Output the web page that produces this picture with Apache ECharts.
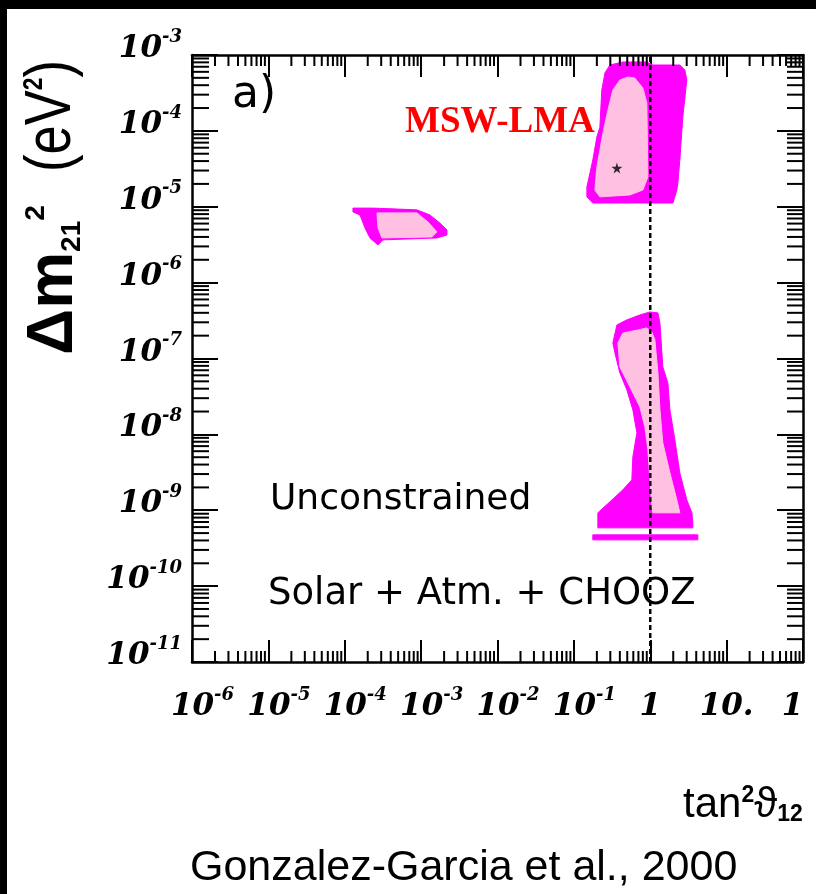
<!DOCTYPE html>
<html><head><meta charset="utf-8">
<script src="https://cdn.jsdelivr.net/npm/echarts@6/dist/echarts.min.js"></script>
<style>html,body{margin:0;padding:0;background:#fff}#c{width:816px;height:894px}</style>
</head><body><div id="c"></div>
<script>
// ---- axis tick labels ----
const xDecades = [-6, -5, -4, -3, -2, -1, 0, 1, 2];
const xLabelBase = ['10', '10', '10', '10', '10', '10', '1', '10.', '1'];
const xLabelExp = ['-6', '-5', '-4', '-3', '-2', '-1', '', '', ''];
const yDecades = [-11, -10, -9, -8, -7, -6, -5, -4, -3];
const yLabelBase = ['10', '10', '10', '10', '10', '10', '10', '10', '10'];
const yLabelExp = ['-11', '-10', '-9', '-8', '-7', '-6', '-5', '-4', '-3'];

// ---- allowed regions (tan^2 theta12, delta m^2_21 in eV^2) ----
const lmaOuter = [[0.255,5.79e-4],[0.296,7.38e-4],[0.438,8.09e-4],[0.902,8.09e-4],[1.08,7.38e-4],[2.44,7.38e-4],[2.84,6.34e-4],[3.01,4.69e-4],[2.67,1.52e-4],[2.44,4.14e-5],[2.30,2.06e-5],[2.23,1.66e-5],[1.98,1.12e-5],[0.177,1.12e-5],[0.148,1.35e-5],[0.148,1.82e-5],[0.177,4.14e-5],[0.200,8.31e-5],[0.219,1.12e-4],[0.232,3.46e-4]];
const lmaInner = [[0.509,5.13e-4],[0.628,4.98e-4],[0.800,3.67e-4],[0.902,2.33e-4],[0.931,2.47e-5],[0.800,1.66e-5],[0.541,1.43e-5],[0.219,1.35e-5],[0.188,1.66e-5],[0.200,3.34e-5],[0.240,9.38e-5],[0.279,1.88e-4],[0.324,3.46e-4],[0.400,4.69e-4]];
const smaOuter = [[1.28e-4,9.6e-6],[2.34e-4,9.6e-6],[8.8e-4,9.1e-6],[1.30e-3,7.8e-6],[1.76e-3,6.1e-6],[2.18e-3,4.95e-6],[2.18e-3,4.25e-6],[1.61e-3,3.88e-6],[3.16e-4,3.66e-6],[2.72e-4,3.14e-6],[2.14e-4,3.88e-6],[1.84e-4,5.26e-6],[1.58e-4,7.8e-6],[1.28e-4,8.55e-6]];
const smaInner = [[2.64e-4,8.3e-6],[8.8e-4,8.3e-6],[1.23e-3,6.3e-6],[1.61e-3,4.66e-6],[1.38e-3,4.0e-6],[3.07e-4,3.88e-6],[2.72e-4,5.26e-6]];
const lowOuter = [[0.989,4.11e-7],[1.26,3.99e-7],[1.34,2.94e-7],[1.46,7.75e-8],[1.70,4.77e-8],[1.81,2.10e-8],[2.10,8.47e-9],[2.44,3.11e-9],[3.01,1.37e-9],[3.51,9.25e-10],[3.61,6.82e-10],[3.61,5.86e-10],[0.206,5.86e-10],[0.206,9.25e-10],[0.296,1.29e-9],[0.438,1.86e-9],[0.574,2.52e-9],[0.592,5.06e-9],[0.668,1.05e-8],[0.592,2.10e-8],[0.494,3.86e-8],[0.400,6.46e-8],[0.344,1.19e-7],[0.324,1.61e-7],[0.366,2.77e-7],[0.494,3.23e-7],[0.731,3.75e-7]];
const lowStrip = [[0.177,4.74e-10],[4.20,4.74e-10],[4.20,4.07e-10],[0.177,4.07e-10]];
const lowInner = [[0.902,2.53e-7],[0.689,2.38e-7],[0.438,2.17e-7],[0.377,1.61e-7],[0.400,7.75e-8],[0.541,4.23e-8],[0.731,2.30e-8],[0.849,1.26e-8],[0.931,6.25e-9],[0.989,2.52e-9],[1.05,1.11e-9],[1.08,9.25e-10],[2.44,9.25e-10],[2.23,1.37e-9],[1.81,3.11e-9],[1.46,7.73e-9],[1.34,2.10e-8],[1.26,6.46e-8],[1.15,1.76e-7],[1.05,2.24e-7]];
const bestFit = [[0.366, 3.24e-5]];
const maximalMixing = [[1, 1e-11], [1, 1e-3]];

const MAGENTA = '#ff00ff';
const PINK = '#ffc0e2';

const minorMult = [2, 3, 4, 5, 6, 7, 8, 9];
function minorVals(decs) {
  const out = [];
  decs.slice(0, -1).forEach(d => minorMult.forEach(k => out.push(k * Math.pow(10, d))));
  return out;
}
const xMinor = minorVals(xDecades).map(v => [v, 1e-7]);
const yMinor = minorVals(yDecades).map(v => [1, v]);

function polySeries(pts, color, z) {
  return {
    type: 'custom', coordinateSystem: 'cartesian2d', z: z, silent: true,
    data: pts, encode: { x: 0, y: 1 },
    renderItem: (params, api) => {
      if (params.dataIndex !== 0) return null;
      const points = pts.map(p => api.coord(p));
      return { type: 'polygon', shape: { points: points }, style: { fill: color, stroke: color, lineWidth: 1 } };
    }
  };
}

const labelRich = {
  b: { fontFamily: 'DejaVu Serif', fontStyle: 'italic', fontWeight: 'bold', fontSize: 31, lineHeight: 42, color: '#000' },
  sup: { fontFamily: 'DejaVu Serif', fontStyle: 'italic', fontWeight: 'bold', fontSize: 18, verticalAlign: 'top', color: '#000' },
  pad: { width: 21, fontSize: 18 }
};

const axisCommonX = {
  type: 'log', logBase: 10, min: 1e-6, max: 100,
  axisLine: { show: true, lineStyle: { color: '#000', width: 2.5 } },
  axisTick: { show: true, inside: true, length: 22, lineStyle: { color: '#000', width: 2 } },
  splitLine: { show: false }, minorTick: { show: false }
};
const axisCommonY = {
  type: 'log', logBase: 10, min: 1e-11, max: 1e-3,
  axisLine: { show: true, lineStyle: { color: '#000', width: 2.5 } },
  axisTick: { show: true, inside: true, length: 26, lineStyle: { color: '#000', width: 2 } },
  splitLine: { show: false }, minorTick: { show: false }
};

const chart = echarts.init(document.getElementById('c'), null, { renderer: 'canvas' });
chart.setOption({
  backgroundColor: '#fff',
  animation: false,
  grid: { left: 192, top: 55, right: 13, bottom: 232, containLabel: false, outerBoundsMode: 'none' },
  xAxis: [
    Object.assign({}, axisCommonX, {
      position: 'bottom',
      axisLabel: {
        show: true, margin: 24, showMinLabel: true, showMaxLabel: true, hideOverlap: false, interval: 0, rich: labelRich,
        formatter: v => {
          const i = Math.round(Math.log10(v)) - xDecades[0];
          const b = xLabelBase[i], e = xLabelExp[i];
          if (e) return '{pad| }{b|' + b + '}{sup|' + e + '}';
          if (i === xLabelBase.length - 1) return '{b|' + b + '}{pad| }';
          return '{b|' + b + '}';
        }
      }
    }),
    Object.assign({}, axisCommonX, { position: 'top', axisLabel: { show: false } })
  ],
  yAxis: [
    Object.assign({}, axisCommonY, {
      position: 'left',
      axisLabel: {
        show: true, margin: 10, padding: [0, 0, 12, 0], showMinLabel: true, showMaxLabel: true, hideOverlap: false, interval: 0, rich: labelRich,
        formatter: v => {
          const i = Math.round(Math.log10(v)) - yDecades[0];
          return '{b|' + yLabelBase[i] + '}{sup|' + yLabelExp[i] + '}';
        }
      }
    }),
    Object.assign({}, axisCommonY, { position: 'right', axisLabel: { show: false } })
  ],
  series: [
    polySeries(lmaOuter, MAGENTA, 2),
    polySeries(smaOuter, MAGENTA, 2),
    polySeries(lowOuter, MAGENTA, 2),
    polySeries(lowStrip, MAGENTA, 2),
    polySeries(lmaInner, PINK, 3),
    polySeries(smaInner, PINK, 3),
    polySeries(lowInner, PINK, 3),
    {
      type: 'line', data: maximalMixing, symbol: 'none', z: 5, silent: true,
      lineStyle: { color: '#000', width: 2.5, type: [5, 3] }
    },
    {
      type: 'scatter', data: bestFit, z: 6, silent: true,
      symbol: 'path://M50,0 L61,35 L98,35 L68,57 L79,91 L50,70 L21,91 L32,57 L2,35 L39,35 Z',
      symbolSize: 11, itemStyle: { color: '#000' }
    },
    {
      type: 'custom', coordinateSystem: 'cartesian2d', z: 7, silent: true, data: xMinor, encode: { x: 0, y: 1 },
      renderItem: (params, api) => {
        const cs = params.coordSys;
        const px = api.coord([api.value(0), api.value(1)])[0];
        const st = { stroke: '#000', lineWidth: 2 };
        return { type: 'group', children: [
          { type: 'line', shape: { x1: px, y1: cs.y + cs.height, x2: px, y2: cs.y + cs.height - 11 }, style: st },
          { type: 'line', shape: { x1: px, y1: cs.y, x2: px, y2: cs.y + 11 }, style: st }
        ] };
      }
    },
    {
      type: 'custom', coordinateSystem: 'cartesian2d', z: 7, silent: true, data: yMinor, encode: { x: 0, y: 1 },
      renderItem: (params, api) => {
        const cs = params.coordSys;
        const py = api.coord([api.value(0), api.value(1)])[1];
        const st = { stroke: '#000', lineWidth: 2 };
        return { type: 'group', children: [
          { type: 'line', shape: { x1: cs.x, y1: py, x2: cs.x + 17, y2: py }, style: st },
          { type: 'line', shape: { x1: cs.x + cs.width, y1: py, x2: cs.x + cs.width - 16, y2: py }, style: st }
        ] };
      }
    }
  ],
  graphic: [
    { type: 'rect', shape: { x: 0, y: 0, width: 816, height: 9 }, style: { fill: '#000' }, z: 100 },
    { type: 'rect', shape: { x: 0, y: 0, width: 7, height: 894 }, style: { fill: '#000' }, z: 100 },
    {
      type: 'text', x: 54, y: 280, rotation: Math.PI / 2, z: 50,
      style: {
        text: '{m|Δm}{sub|21}{sup|2}', align: 'center', verticalAlign: 'middle',
        rich: {
          m: { fontFamily: 'Liberation Sans', fontWeight: 'bold', fontSize: 64, fill: '#000' },
          sub: { fontFamily: 'Liberation Sans', fontWeight: 'bold', fontSize: 28, verticalAlign: 'bottom', fill: '#000' },
          sup: { fontFamily: 'Liberation Sans', fontWeight: 'bold', fontSize: 28, verticalAlign: 'top', fill: '#000' }
        }
      }
    },
    {
      type: 'text', x: 52, y: 116, rotation: Math.PI / 2, scaleX: 0.82, z: 50,
      style: {
        text: '{r|(eV}{sup|2}{r|)}', align: 'center', verticalAlign: 'middle',
        rich: {
          r: { fontFamily: 'Liberation Sans', fontSize: 64, fill: '#000' },
          sup: { fontFamily: 'Liberation Sans', fontWeight: 'bold', fontSize: 28, verticalAlign: 'top', fill: '#000' }
        }
      }
    },
    { type: 'text', x: 232, y: 96, z: 50, style: { text: 'a)', fontFamily: 'DejaVu Sans', fontSize: 44, fill: '#000', align: 'left', verticalAlign: 'middle' } },
    { type: 'text', x: 405, y: 122, z: 50, style: { text: 'MSW-LMA', fontFamily: 'Liberation Serif', fontWeight: 'bold', fontSize: 37, fill: '#ff0000', align: 'left', verticalAlign: 'middle' } },
    { type: 'text', x: 270, y: 500, z: 50, style: { text: 'Unconstrained', fontFamily: 'DejaVu Sans', fontWeight: 500, fontSize: 36, fill: '#000', align: 'left', verticalAlign: 'middle' } },
    { type: 'text', x: 268, y: 594, z: 50, style: { text: 'Solar + Atm. + CHOOZ', fontFamily: 'DejaVu Sans', fontSize: 37, fill: '#000', align: 'left', verticalAlign: 'middle' } },
    {
      type: 'text', x: 683, y: 805, z: 50,
      style: {
        text: '{r|tan}{sup|2}{r|ϑ}{sub|12}', align: 'left', verticalAlign: 'middle',
        rich: {
          r: { fontFamily: 'Liberation Sans, DejaVu Sans', fontSize: 42, fill: '#000' },
          sup: { fontFamily: 'Liberation Sans', fontWeight: 'bold', fontSize: 23, verticalAlign: 'top', fill: '#000' },
          sub: { fontFamily: 'Liberation Sans', fontWeight: 'bold', fontSize: 23, verticalAlign: 'bottom', fill: '#000' }
        }
      }
    },
    { type: 'text', x: 190, y: 868, z: 50, style: { text: 'Gonzalez-Garcia et al., 2000', fontFamily: 'Liberation Sans', fontSize: 43, fill: '#000', align: 'left', verticalAlign: 'middle' } }
  ]
});
</script>
</body></html>
